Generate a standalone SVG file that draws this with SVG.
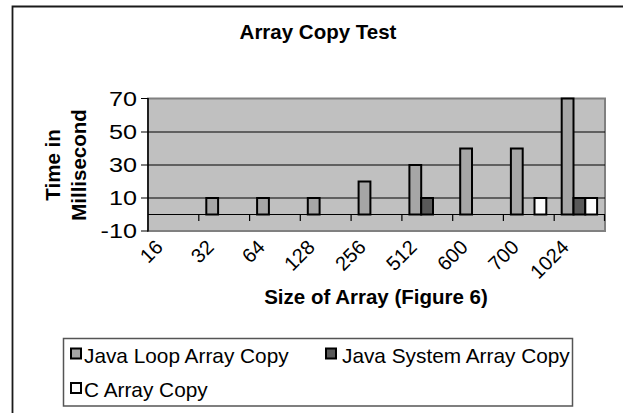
<svg xmlns="http://www.w3.org/2000/svg" width="623" height="413" viewBox="0 0 623 413">
<style>
.t{font-family:"Liberation Sans",Arial,sans-serif;fill:#000}
.b{font-weight:bold;font-size:20.5px}
.n{font-size:20px}
.lg{font-size:20.8px}
.grid{stroke:#000;stroke-width:1}
.bar{stroke:#000;stroke-width:2}
.loop{fill:#a6a6a6}
.sys{fill:#595959}
.c{fill:#fcfcfc}
</style>
<rect x="0" y="0" width="623" height="413" fill="#fff"/>
<g id="frame">
<path d="M12.5,413 V6.5 H623" fill="none" stroke="#1a1a1a" stroke-width="1.8"/>
</g>
<g id="title"><text class="t b" x="318" y="39" text-anchor="middle">Array Copy Test</text></g>
<g id="plot">
<rect x="148" y="98.5" width="457" height="132.5" fill="#c0c0c0" stroke="#808080" stroke-width="2"/>
<g class="grid">
<line x1="148" y1="132" x2="605" y2="132"/>
<line x1="148" y1="165" x2="605" y2="165"/>
<line x1="148" y1="198" x2="605" y2="198"/>
</g>
</g>
<g id="connectors">
<line x1="148" y1="214.5" x2="605" y2="214.5" stroke="#000" stroke-width="1.2"/>
<line x1="148" y1="98" x2="148" y2="231.5" stroke="#000" stroke-width="1.5"/>
<path d="M141,98.5H148M141,132H148M141,165H148M141,198H148M141,231H148" stroke="#000" stroke-width="1.2"/>
<path d="M198.8,214.5v6.5M249.6,214.5v6.5M300.3,214.5v6.5M351.1,214.5v6.5M401.9,214.5v6.5M452.7,214.5v6.5M503.4,214.5v6.5M554.2,214.5v6.5M604.5,214.5v6.5" stroke="#000" stroke-width="1.2"/>
</g>
<g id="yticks" class="t" font-size="21" text-anchor="end">
<text transform="translate(137,105.5) scale(1.2,1)">70</text>
<text transform="translate(137,139) scale(1.2,1)">50</text>
<text transform="translate(137,172) scale(1.2,1)">30</text>
<text transform="translate(137,205) scale(1.2,1)">10</text>
<text transform="translate(137,238) scale(1.2,1)">-10</text>
</g>
<g id="ytitle" class="t b" text-anchor="middle">
<text transform="translate(59.5,165) rotate(-90)">Time in</text>
<text transform="translate(85.5,165) rotate(-90)">Millisecond</text>
</g>
<g id="bars">
<rect class="bar loop" x="206.3" y="198" width="11.8" height="16.5"/>
<rect class="bar loop" x="257.1" y="198" width="11.8" height="16.5"/>
<rect class="bar loop" x="307.8" y="198" width="11.8" height="16.5"/>
<rect class="bar loop" x="358.6" y="181.5" width="11.8" height="33"/>
<rect class="bar loop" x="409.4" y="165" width="11.8" height="49.5"/>
<rect class="bar sys" x="421.2" y="198" width="11.8" height="16.5"/>
<rect class="bar loop" x="460.2" y="148.5" width="11.8" height="66"/>
<rect class="bar loop" x="510.9" y="148.5" width="11.8" height="66"/>
<rect class="bar c" x="534.5" y="198" width="11.8" height="16.5"/>
<rect class="bar loop" x="561.7" y="98.5" width="11.8" height="116"/>
<rect class="bar sys" x="573.5" y="198" width="11.8" height="16.5"/>
<rect class="bar c" x="585.3" y="198" width="11.8" height="16.5"/>
</g>
<g id="xlabels" class="t n" text-anchor="end">
<text transform="translate(164,248.5) rotate(-45)">16</text>
<text transform="translate(215,248.5) rotate(-45)">32</text>
<text transform="translate(266,248.5) rotate(-45)">64</text>
<text transform="translate(316,248.5) rotate(-45)">128</text>
<text transform="translate(367,248.5) rotate(-45)">256</text>
<text transform="translate(418,248.5) rotate(-45)">512</text>
<text transform="translate(469,248.5) rotate(-45)">600</text>
<text transform="translate(520,248.5) rotate(-45)">700</text>
<text transform="translate(570,248.5) rotate(-45)">1024</text>
</g>
<g id="xtitle"><text class="t b" x="376" y="304" text-anchor="middle">Size of Array (Figure 6)</text></g>
<g id="legend">
<rect x="63.5" y="338.5" width="509" height="67.5" fill="#fff" stroke="#555" stroke-width="1.5"/>
<rect class="bar loop" x="71" y="348.5" width="10" height="10"/>
<text class="t lg" x="84" y="362.5">Java Loop Array Copy</text>
<rect class="bar sys" x="326" y="348.5" width="10" height="10"/>
<text class="t lg" x="342" y="362.5">Java System Array Copy</text>
<rect class="bar c" x="71" y="383" width="10" height="10"/>
<text class="t lg" x="84" y="397">C Array Copy</text>
</g>
</svg>
